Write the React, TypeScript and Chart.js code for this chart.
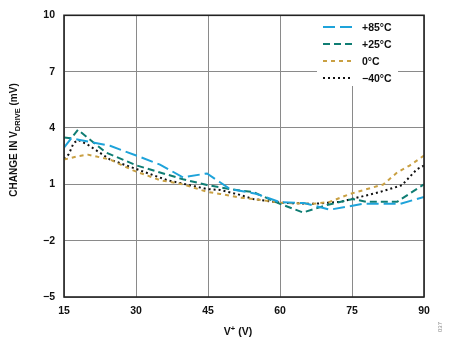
import React, { useEffect, useRef } from "react";
import { Chart, registerables } from "chart.js";

Chart.register(...registerables);

const xTicks = [15, 30, 45, 60, 75, 90];
const yTicks = [-5, -2, 1, 4, 7, 10];

const seriesLabels = ["+85°C", "+25°C", "0°C", "\u221240°C"];

const x85 = [15, 16.5, 18.3, 24.6, 30.2, 35, 39.8, 44.8, 47.5, 49.6, 55, 60, 65, 70.4, 77.3, 85, 90];
const y85 = [2.95, 3.45, 3.36, 3.05, 2.52, 2.05, 1.37, 1.58, 1.11, 0.75, 0.5, 0.05, 0.0, -0.35, -0.04, -0.04, 0.33];

const x25 = [15, 16.5, 17.9, 23.7, 30.2, 35, 39.8, 44.8, 50.2, 54.4, 60, 64.8, 69.8, 75.2, 78, 84.4, 90];
const y25 = [3.5, 3.45, 3.9, 2.7, 2.0, 1.63, 1.27, 0.96, 0.72, 0.59, -0.04, -0.5, -0.1, 0.22, 0.07, 0.07, 1.0];

const x0 = [15, 18, 20, 24.6, 29.4, 35, 39.8, 44.8, 47.5, 51.5, 54.4, 60, 66.9, 70.4, 74.6, 81.5, 84.4, 87, 90];
const y0 = [2.32, 2.5, 2.58, 2.32, 1.74, 1.22, 1.0, 0.6, 0.49, 0.3, 0.22, 0.02, -0.04, 0.07, 0.49, 0.99, 1.63, 2.0, 2.53];

const xm40 = [15, 16, 17, 18, 20, 24.6, 30.2, 36.5, 44.8, 47.5, 51.5, 54.4, 60, 66.9, 72.7, 76.7, 80.8, 85.4, 88.5, 90];
const ym40 = [2.35, 2.6, 3.2, 3.36, 3.1, 2.32, 1.8, 1.22, 0.75, 0.7, 0.45, 0.22, 0.02, -0.04, 0.07, 0.33, 0.59, 0.95, 1.8, 2.0];

const colors = ["#1ea3da", "#0f7d73", "#c9a043", "#111111"];
const dashes = [[12, 5], [7, 4], [4, 4], [2, 3]];

const FONT = "'Liberation Sans', Arial, sans-serif";

function pts(xs: number[], ys: number[]) {
  return xs.map((x, i) => ({ x, y: ys[i] }));
}

const decorPlugin = {
  id: "decor",
  afterDatasetsDraw(chart: any) {
    const ctx = chart.ctx;
    const area = chart.chartArea;
    ctx.save();
    ctx.fillStyle = "#ffffff";
    ctx.fillRect(317, 16, 81, 70);
    seriesLabels.forEach((lab, i) => {
      const y = 27 + i * 17;
      ctx.beginPath();
      ctx.setLineDash(dashes[i]);
      ctx.strokeStyle = colors[i];
      ctx.lineWidth = 2;
      ctx.moveTo(323, y);
      ctx.lineTo(353, y);
      ctx.stroke();
      ctx.setLineDash([]);
      ctx.fillStyle = "#111";
      ctx.font = "bold 10.5px " + FONT;
      ctx.textBaseline = "middle";
      ctx.textAlign = "left";
      ctx.fillText(lab, 362, y + 1);
    });
    ctx.strokeStyle = "#222";
    ctx.lineWidth = 1.6;
    ctx.strokeRect(area.left, area.top, area.right - area.left, area.bottom - area.top);
    ctx.restore();
  },
  afterDraw(chart: any) {
    const ctx = chart.ctx;
    const big = "bold 10px " + FONT;
    const small = "bold 7.5px " + FONT;
    ctx.save();
    ctx.fillStyle = "#111";
    ctx.translate(17, 140);
    ctx.rotate(-Math.PI / 2);
    const p1 = "CHANGE IN V";
    const p2 = "DRIVE";
    const p3 = " (mV)";
    ctx.font = big;
    const w1 = ctx.measureText(p1).width;
    const w3 = ctx.measureText(p3).width;
    ctx.font = small;
    const w2 = ctx.measureText(p2).width;
    const total = w1 + w2 + w3;
    let x = -total / 2;
    ctx.textBaseline = "alphabetic";
    ctx.textAlign = "left";
    ctx.font = big;
    ctx.fillText(p1, x, 0);
    x += w1;
    ctx.font = small;
    ctx.fillText(p2, x, 3);
    x += w2;
    ctx.font = big;
    ctx.fillText(p3, x, 0);
    ctx.restore();

    ctx.save();
    ctx.fillStyle = "#111";
    const bigX = "bold 10.5px " + FONT;
    ctx.font = bigX;
    const a = "V";
    const b = "+";
    const c = " (V)";
    const wa = ctx.measureText(a).width;
    const wc = ctx.measureText(c).width;
    ctx.font = small;
    const wb = ctx.measureText(b).width;
    let xx = 238 - (wa + wb + wc) / 2;
    ctx.textBaseline = "alphabetic";
    ctx.font = bigX;
    ctx.fillText(a, xx, 335);
    xx += wa;
    ctx.font = small;
    ctx.fillText(b, xx, 331);
    xx += wb;
    ctx.font = bigX;
    ctx.fillText(c, xx, 335);
    ctx.restore();

    ctx.save();
    ctx.fillStyle = "#888";
    ctx.font = "6px " + FONT;
    ctx.translate(440, 327);
    ctx.rotate(-Math.PI / 2);
    ctx.textAlign = "center";
    ctx.textBaseline = "middle";
    ctx.fillText("037", 0, 0);
    ctx.restore();
  },
};

export default function App() {
  const ref = useRef<HTMLCanvasElement | null>(null);
  useEffect(() => {
    if (!ref.current) return;
    const series = [pts(x85, y85), pts(x25, y25), pts(x0, y0), pts(xm40, ym40)];
    const chart = new Chart(ref.current, {
      type: "line",
      data: {
        datasets: series.map((d, i) => ({
          label: seriesLabels[i],
          data: d,
          borderColor: colors[i],
          borderWidth: 2,
          borderDash: dashes[i],
          pointRadius: 0,
          fill: false,
          tension: 0,
        })),
      },
      options: {
        responsive: false,
        animation: false,
        layout: { padding: { left: 0, top: 10, right: 26, bottom: 0 } },
        plugins: { legend: { display: false }, tooltip: { enabled: false } },
        scales: {
          x: {
            type: "linear",
            min: 15,
            max: 90,
            afterBuildTicks: (s: any) => {
              s.ticks = xTicks.map((v) => ({ value: v }));
            },
            afterFit: (s: any) => {
              s.height = 42;
            },
            grid: { color: "#8a8a8a", lineWidth: 1, drawTicks: false },
            border: { display: false },
            ticks: {
              color: "#111",
              font: { family: FONT, size: 10.5, weight: "bold" },
              padding: 8,
              maxRotation: 0,
            },
          },
          y: {
            type: "linear",
            min: -5,
            max: 10,
            afterBuildTicks: (s: any) => {
              s.ticks = yTicks.map((v) => ({ value: v }));
            },
            afterFit: (s: any) => {
              s.width = 64;
            },
            grid: { color: "#8a8a8a", lineWidth: 1, drawTicks: false },
            border: { display: false },
            ticks: {
              color: "#111",
              font: { family: FONT, size: 10.5, weight: "bold" },
              padding: 9,
              callback: (v: any) => (Number(v) < 0 ? "\u2212" + Math.abs(Number(v)) : String(v)),
            },
          },
        },
      },
      plugins: [decorPlugin],
    });
    return () => chart.destroy();
  }, []);
  return (
    <div style={{ position: "fixed", left: 0, top: 0, width: 450, height: 339, background: "#fff" }}>
      <canvas ref={ref} width={450} height={339} style={{ width: 450, height: 339 }} />
    </div>
  );
}
